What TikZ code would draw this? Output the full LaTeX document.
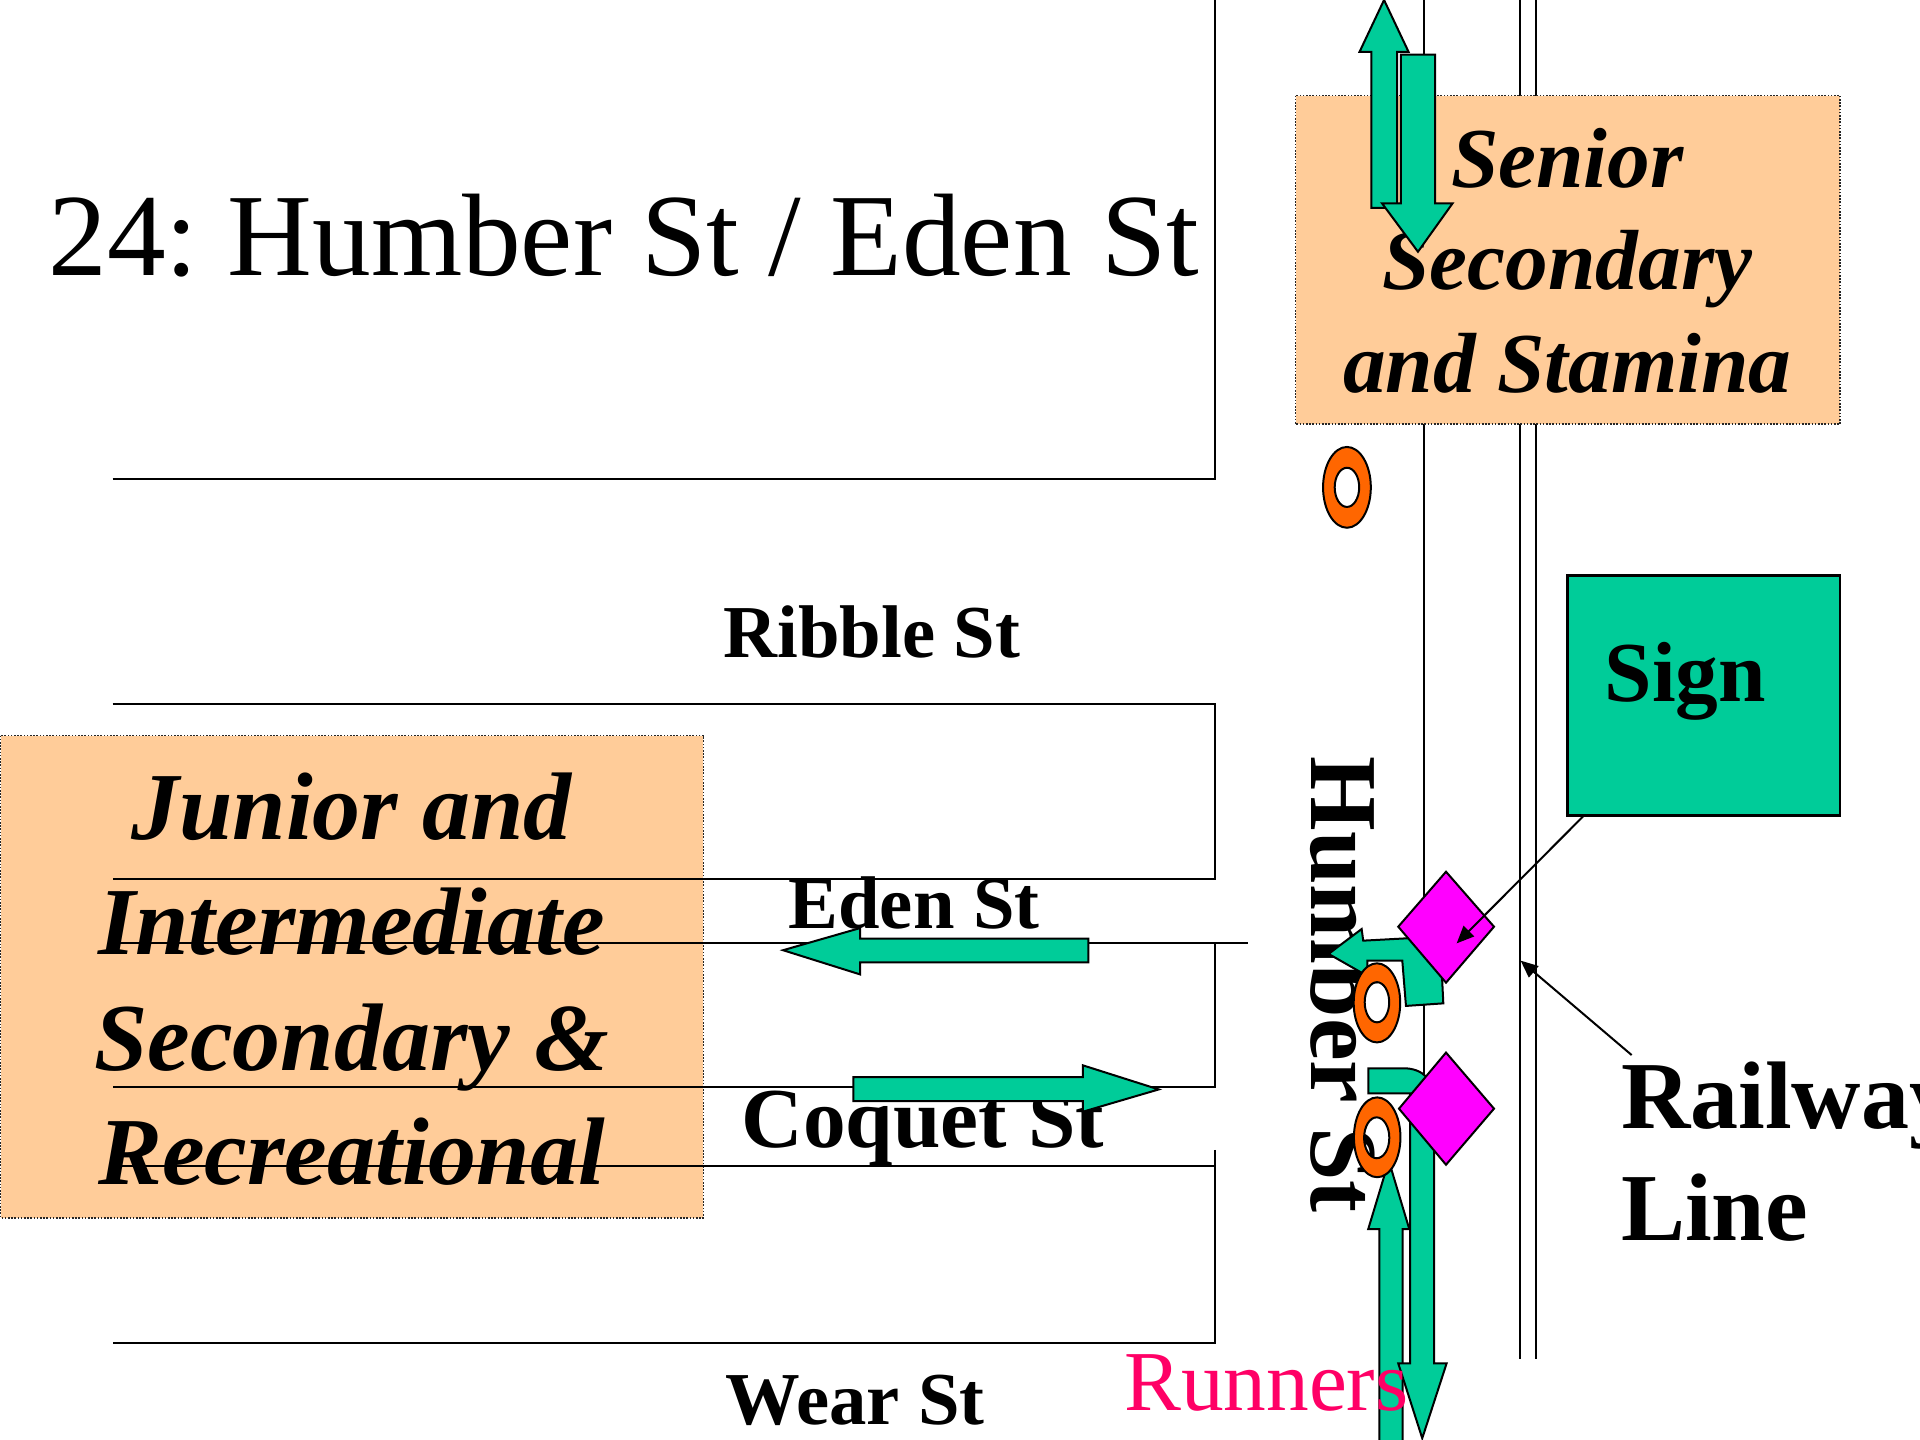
\documentclass[tikz,border=0pt]{standalone}
\usepackage{fontspec}
\setmainfont{Liberation Serif}
\usetikzlibrary{arrows.meta}
\definecolor{peach}{HTML}{FFCC99}
\definecolor{agreen}{HTML}{00CC99}
\definecolor{rorange}{HTML}{FF6600}
\definecolor{dmag}{HTML}{FF00FF}
\definecolor{runpink}{HTML}{FF0066}
\frenchspacing
\tikzset{
  road/.style={draw=black, line width=0.75pt},
  school/.style={fill=peach, draw=black!85, line width=0.6pt, dash pattern=on 0.6pt off 0.6pt},
  blockarrow/.style={fill=agreen, draw=black, line width=0.75pt, line join=miter},
  ring/.style={fill=rorange, draw=black, line width=0.75pt, even odd rule},
  marker/.style={fill=dmag, draw=black, line width=0.75pt},
  signbox/.style={fill=agreen, draw=black, line width=1pt},
  ptr/.style={draw=black, line width=0.75pt, -{Triangle[length=6.5pt,width=5.5pt]}},
  txt/.style={inner sep=0pt, outer sep=0pt, anchor=base west},
  streetlbl/.style={txt, font=\fontsize{28}{33.6}\selectfont\bfseries},
  bigstreet/.style={txt, font=\fontsize{32}{38.4}\selectfont\bfseries},
  railtxt/.style={txt, font=\fontsize{36}{43.2}\selectfont\bfseries},
  seniortxt/.style={inner sep=0pt, outer sep=0pt, anchor=base, font=\fontsize{32}{38.4}\selectfont\bfseries\itshape},
  juniortxt/.style={inner sep=0pt, outer sep=0pt, anchor=base, font=\fontsize{36}{43.2}\selectfont\bfseries\itshape},
}
\begin{document}
\begin{tikzpicture}[x=0.459184pt, y=-0.459184pt]
\useasboundingbox[fill=white] (0,0) rectangle (1568,1176);

% Junior box (under the street lines)
\path[school] (0.5,600.7) rectangle (574.5,994.5);

% street lines
\draw[road] (91.9,391.5) -- (992.5,391.5) -- (992.5,0);
\draw[road] (91.9,575) -- (992.5,575) -- (992.5,718.2) -- (91.9,718.2);
\draw[road] (91.9,770.3) -- (1019,770.3);
\draw[road] (992.5,770.3) -- (992.5,887.5) -- (91.9,887.5);
\draw[road] (91.9,952.5) -- (992.5,952.5);
\draw[road] (992.5,939) -- (992.5,1097) -- (91.9,1097);
\draw[road] (1162.8,0) -- (1162.8,1110);
\draw[road] (1241.3,0) -- (1241.3,1110);
\draw[road] (1254.3,0) -- (1254.3,1110);

% Senior box (over the lines)
\path[school] (1058,78) rectangle (1502.6,346.5);

% title and labels
\node[txt, font=\fontsize{44}{52.8}\selectfont] (title) at (39.5,225) {24: Humber St / Eden St};
\node[streetlbl] (ribble) at (591,537) {Ribble St};
\node[streetlbl] (eden) at (644,758.5) {Eden St};
\node[bigstreet] (coquet) at (605.5,937) {Coquet St};
\node[streetlbl] (wear) at (592.5,1163) {Wear St};

\node[seniortxt] (sen1) at (1280,153) {Senior};
\node[seniortxt] (sen2) at (1280,236.3) {Secondary};
\node[seniortxt] (sen3) at (1280,320.9) {and Stamina};

\node[juniortxt] (jun1) at (287,685.6) {Junior and};
\node[juniortxt] (jun2) at (287,779.8) {Intermediate};
\node[juniortxt] (jun3) at (287,874) {Secondary \&};
\node[juniortxt] (jun4) at (287,967) {Recreational};

% sign
\path[signbox] (1280.2,470.1) rectangle (1502.6,666.1);
\node[bigstreet] (sign) at (1310.5,573) {Sign};

% railway label
\node[railtxt] (rail1) at (1324,922) {Railway};
\node[railtxt] (rail2) at (1324,1013) {Line};

% Humber St
\node[railtxt, rotate=-90] (humber) at (1071,618) {Humber St};

% green block arrows
\path[blockarrow] (1130.3,0) -- (1150.3,42.3) -- (1141,42.3) -- (1141,169.8) -- (1120,169.8) -- (1120,42.3) -- (1110.3,42.3) -- cycle;
\path[blockarrow] (1144,44.6) -- (1172,44.6) -- (1172,166) -- (1186.3,166) -- (1158,205.6) -- (1128.6,166) -- (1144,166) -- cycle;
\path[blockarrow] (639.5,776) -- (702.5,757.9) -- (702.5,766.5) -- (888.8,766.5) -- (888.8,786) -- (702.5,786) -- (702.5,795.8) -- cycle;
\path[blockarrow] (697,879.7) -- (884.3,879.7) -- (884.3,870) -- (946.3,889.7) -- (884.3,907.9) -- (884.3,899.2) -- (697,899.2) -- cycle;
\path[blockarrow] (1085,779) -- (1112,758.7) -- (1113.3,768.2) -- (1148.7,766.3) -- (1176,764) -- (1178.7,819.4) -- (1148.2,821.5) -- (1145.2,784.5) -- (1116.6,784.5) -- (1116.6,797) -- cycle;
\path[blockarrow] (1134.2,948) -- (1150.9,1003.7) -- (1145.5,1003.7) -- (1145.5,1185) -- (1126.4,1185) -- (1126.4,1003.7) -- (1117.4,1003.7) -- cycle;
\path[blockarrow] (1117.4,872.4) -- (1146,872.4) .. controls (1162,872.4) and (1171.1,882) .. (1171.1,898) -- (1171.1,1113.4) -- (1181.4,1113.4) -- (1161.5,1174.6) -- (1141.9,1113.4) -- (1151.5,1113.4) -- (1151.5,893) -- (1117.4,893) -- cycle;

% markers
\path[marker] (1180.9,711.9) -- (1220.1,756.8) -- (1180.9,802.5) -- (1141.9,756.8) -- cycle;
\path[marker] (1180.9,859.6) -- (1220.1,905.4) -- (1180.9,951.2) -- (1142.5,905.4) -- cycle;

% cones
\path[ring] (1100,398) ellipse [x radius=19.5, y radius=33] (1100,398) ellipse [x radius=10, y radius=16];
\path[ring] (1124.5,819) ellipse [x radius=19, y radius=32.3] (1124.5,818.5) ellipse [x radius=10, y radius=16.4];
\path[ring] (1124.7,928.8) ellipse [x radius=19, y radius=32.6] (1124.3,929.2) ellipse [x radius=10.3, y radius=16.7];

% pointers
\coordinate (signfoot) at (1293.5,666.1);
\coordinate (signtip) at (1189.6,770.4);
\coordinate (railfoot) at (1332.5,861.6);
\coordinate (railtip) at (1241.8,784.5);
\draw[ptr] (signfoot) -- (signtip);
\draw[ptr] (railfoot) -- (railtip);

% runners
\node[txt, font=\fontsize{32}{38.4}\selectfont, text=runpink] (runners) at (918,1151.5) {Runners};
\end{tikzpicture}
\end{document}
